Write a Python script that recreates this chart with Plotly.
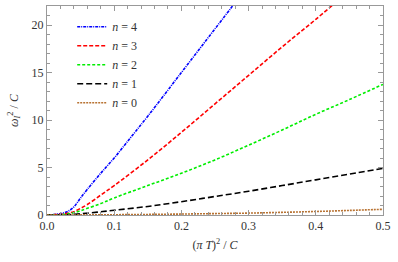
import plotly.graph_objects as go

x4 = [0, 0.01, 0.02, 0.03, 0.035, 0.04, 0.045, 0.05, 0.06, 0.08, 0.1, 0.125, 0.15, 0.2, 0.25, 0.3]
y4 = [0, 0.05, 0.15, 0.35, 0.55, 0.85, 1.3, 1.8, 2.7, 4.4, 6.0, 8.2, 10.4, 15.0, 19.6, 24.2]

x3 = [0, 0.01, 0.02, 0.03, 0.04, 0.05, 0.06, 0.08, 0.1, 0.15, 0.2, 0.25, 0.3, 0.35, 0.4, 0.45]
y3 = [0, 0.03, 0.08, 0.18, 0.35, 0.7, 1.1, 2.1, 3.1, 5.8, 8.7, 11.7, 14.7, 17.7, 20.6, 23.6]

x2 = [0, 0.02, 0.03, 0.04, 0.05, 0.06, 0.08, 0.1, 0.15, 0.2, 0.25, 0.3, 0.35, 0.4, 0.45, 0.5]
y2 = [0, 0.03, 0.1, 0.25, 0.45, 0.7, 1.2, 1.8, 3.1, 4.4, 5.8, 7.35, 8.95, 10.6, 12.15, 13.75]

x1 = [0, 0.03, 0.05, 0.075, 0.1, 0.15, 0.2, 0.25, 0.3, 0.35, 0.4, 0.45, 0.5]
y1 = [0, 0.03, 0.12, 0.3, 0.5, 0.9, 1.4, 1.95, 2.5, 3.1, 3.7, 4.3, 4.9]

x0 = [0, 0.05, 0.1, 0.15, 0.2, 0.25, 0.3, 0.35, 0.4, 0.45, 0.5]
y0 = [0, 0.01, 0.03, 0.06, 0.1, 0.15, 0.2, 0.28, 0.37, 0.48, 0.6]

labels = ["<i>n</i> = 4", "<i>n</i> = 3", "<i>n</i> = 2", "<i>n</i> = 1", "<i>n</i> = 0"]
colors = ["#0000ff", "#ff0000", "#00ee00", "#000000", "#b87333"]
dashes = ["3px,1px,1px,1px", "4px,2px", "3px,2px", "6px,3px", "2px,1px"]

series = [(x4, y4), (x3, y3), (x2, y2), (x1, y1), (x0, y0)]

SERIF = "Times New Roman"

fig = go.Figure()
for (xs, ys), lab, col, d in zip(series, labels, colors, dashes):
    fig.add_trace(go.Scatter(x=xs, y=ys, mode="lines", name=lab,
                             line=dict(color=col, width=1.6, dash=d, shape="spline")))

axis_common = dict(showgrid=False, zeroline=False, showline=True, linecolor="#999999",
                   linewidth=1, mirror="ticks", ticks="inside", ticklen=5, tickcolor="#999999",
                   automargin=False, ticklabeloverflow="allow",
                   tickfont=dict(family=SERIF, size=12, color="#333333"))

fig.update_xaxes(range=[0, 0.5], dtick=0.1, tickformat=".1f",
                 minor=dict(dtick=0.02, ticks="inside", ticklen=3, tickcolor="#999999"),
                 title=dict(text="(<i>π T</i>)<sup>2</sup> / <i>C</i>",
                            font=dict(family=SERIF, size=12, color="#333333"),
                            standoff=8),
                 **axis_common)
fig.update_yaxes(range=[0, 22], dtick=5,
                 minor=dict(dtick=1, ticks="inside", ticklen=3, tickcolor="#999999"),
                 title=dict(text="<i>ω</i><sub><i>I</i></sub><sup>2</sup> / <i>C</i>",
                            font=dict(family=SERIF, size=12, color="#333333"),
                            standoff=10),
                 **axis_common)

fig.update_layout(
    width=398, height=262,
    margin=dict(l=47, r=15, t=6, b=47),
    plot_bgcolor="white", paper_bgcolor="white",
    font=dict(family=SERIF),
    showlegend=True,
    legend=dict(x=0.075, y=0.97, xanchor="left", yanchor="top",
                bgcolor="rgba(0,0,0,0)", itemwidth=30,
                font=dict(family=SERIF, size=12, color="#333333"),
                tracegroupgap=0),
)

fig.write_html("out.html", config={"displayModeBar": False},
               post_script="document.body.style.margin='0px';")
